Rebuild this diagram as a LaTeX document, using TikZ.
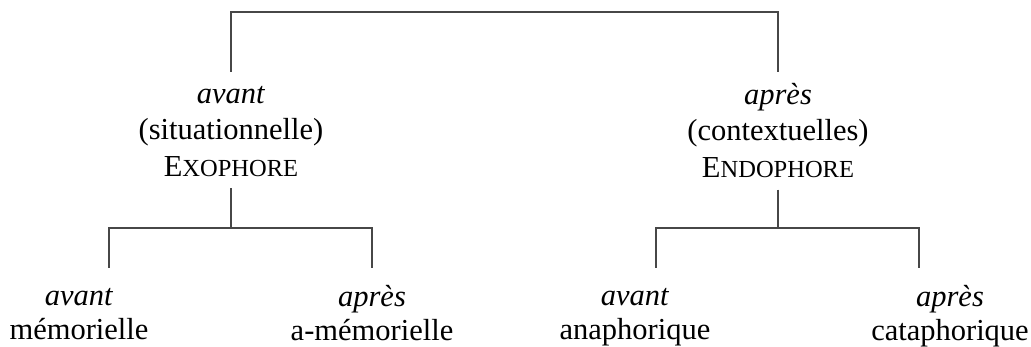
\documentclass[tikz,border=0pt]{standalone}
\usepackage{fontspec}
\setmainfont{Liberation Serif}
\newcommand\fakesc[1]{{\fontsize{24.5}{36.5}\selectfont #1}}
\newcommand\toprule{\rule{0pt}{20pt}}
\newcommand\botrule{\rule[-1pt]{0pt}{1pt}}
\begin{document}
\begin{tikzpicture}[x=1pt,y=-1pt,
  conn/.style={draw=black!72,line width=1.2pt},
  upper/.style={anchor=north,align=center,inner xsep=0pt,inner ysep=11pt,
    font=\fontsize{30.5}{36.5}\selectfont},
  lower/.style={anchor=north,align=center,inner xsep=0pt,inner ysep=17pt,
    font=\fontsize{30.5}{34}\selectfont}]
\useasboundingbox (0,0) rectangle (1031,347);
% upper nodes
\node[upper] (L) at (231,72) {\toprule\textit{avant}\\(situationnelle)\\E\fakesc{XOPHORE}\botrule};
\node[upper] (R) at (778,72) {\toprule\textit{après}\\(contextuelles)\\E\fakesc{NDOPHORE}\botrule};
% lower nodes
\node[lower] (LL) at (79,268) {\toprule\textit{avant}\\mémorielle};
\node[lower] (LR) at (372,268) {\toprule\textit{après}\\a-mémorielle};
\node[lower] (RL) at (635,268) {\toprule\textit{avant}\\anaphorique};
\node[lower] (RR) at (950,268) {\toprule\textit{après}\\cataphorique};
% junctions
\coordinate (T) at (504.5,12);
\coordinate (LJ) at (231,228);
\coordinate (RJ) at (778,228);
% connectors
\draw[conn] (L.north) |- (T) -| (R.north);
\draw[conn] (L.south) -- (LJ);
\draw[conn] ([xshift=30pt]LL.north) |- (LJ) -| (LR.north);
\draw[conn] (R.south) -- (RJ);
\draw[conn] ([xshift=21pt]RL.north) |- (RJ) -| ([xshift=-31pt]RR.north);
\end{tikzpicture}
\end{document}
